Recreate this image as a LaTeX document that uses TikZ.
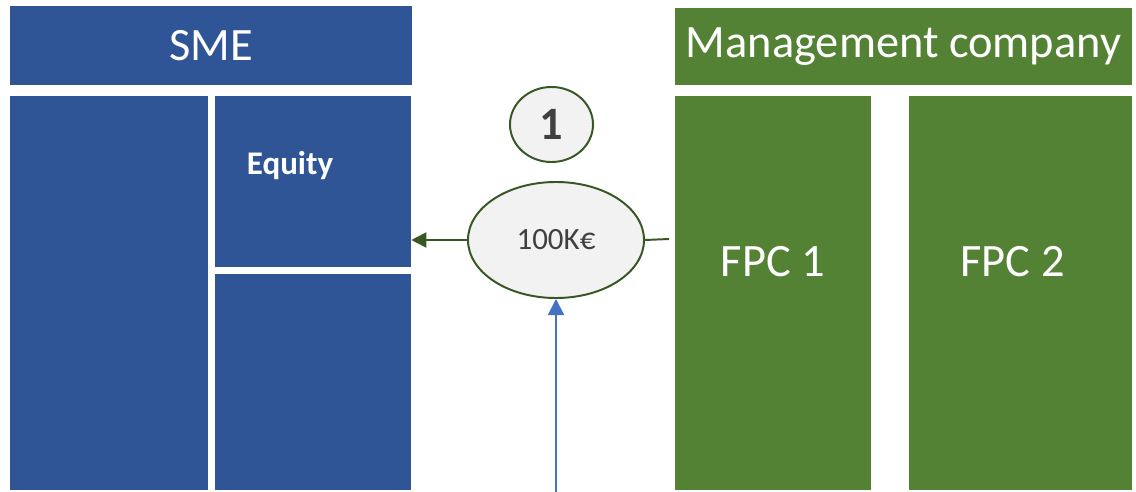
\documentclass[tikz,border=0pt]{standalone}
\usepackage{fontspec}
\setmainfont{Carlito}
\usetikzlibrary{shapes.geometric,arrows.meta}
\definecolor{smeblue}{HTML}{2F5597}
\definecolor{fundgreen}{HTML}{548235}
\definecolor{darkgreen}{HTML}{385723}
\definecolor{flowblue}{HTML}{4472C4}
\definecolor{softgray}{HTML}{F2F2F2}
\definecolor{inkgray}{HTML}{404040}
\newcommand{\headtext}{\fontsize{33}{40}\selectfont}
\begin{document}
\begin{tikzpicture}[x=0.025cm,y=-0.025cm,
  bluebox/.style={rectangle,fill=smeblue,text=white,inner sep=0pt},
  greenbox/.style={rectangle,fill=fundgreen,text=white,inner sep=0pt},
  fundname/.style={text=white,font=\headtext,yshift=0.775cm},
  bubble/.style={ellipse,draw=darkgreen,line width=1.4pt,fill=softgray,text=inkgray,inner sep=0pt}]
\useasboundingbox (0,0) rectangle (1136,492);
% balance sheet of the SME
\node[bluebox,minimum width=10.05cm,minimum height=1.975cm] (sme) at (211,45.5) {\headtext SME};
\node[bluebox,minimum width=4.95cm,minimum height=9.85cm] (assets) at (109,293) {};
\node[bluebox,minimum width=4.9cm,minimum height=4.275cm] (equity) at (313,181.5) {};
\node[bluebox,minimum width=4.9cm,minimum height=5.4cm] (debt) at (313,382) {};
\node[text=white,font=\fontsize{23.5}{28}\selectfont\bfseries,inner sep=0pt] (eqlabel) at (290,166) {Equity};
% fund side
\node[greenbox,minimum width=11.425cm,minimum height=1.925cm] (mgmt) at (903.5,46.5) {\headtext Management company};
\node[greenbox,minimum width=4.9cm,minimum height=9.85cm,
  label={[fundname]center:FPC 1}] (fpc1) at (773,293) {};
\node[greenbox,minimum width=5.575cm,minimum height=9.85cm,
  label={[fundname,xshift=-0.2cm]center:FPC 2}] (fpc2) at (1020.5,293) {};
% the investment flow
\node[bubble,minimum width=2.075cm,minimum height=1.875cm] (stepone) at (551.5,124.5) {\headtext\bfseries 1};
\node[bubble,minimum width=4.4cm,minimum height=2.9cm] (amount) at (556,240) {\fontsize{22}{26}\selectfont 100K€};
\coordinate (fromfpc) at (669,239);
\coordinate (source) at (556,494);
\draw[darkgreen,line width=1.4pt,-{Triangle[length=15*0.025cm,width=15*0.025cm]}] (amount.west) -- (amount.west -| equity.east);
\draw[darkgreen,line width=1.4pt] (amount.east) -- (fromfpc);
\draw[flowblue,line width=1.4pt,-{Triangle[length=16*0.025cm,width=16*0.025cm]}] (source) -- (amount.south);
\end{tikzpicture}
\end{document}
